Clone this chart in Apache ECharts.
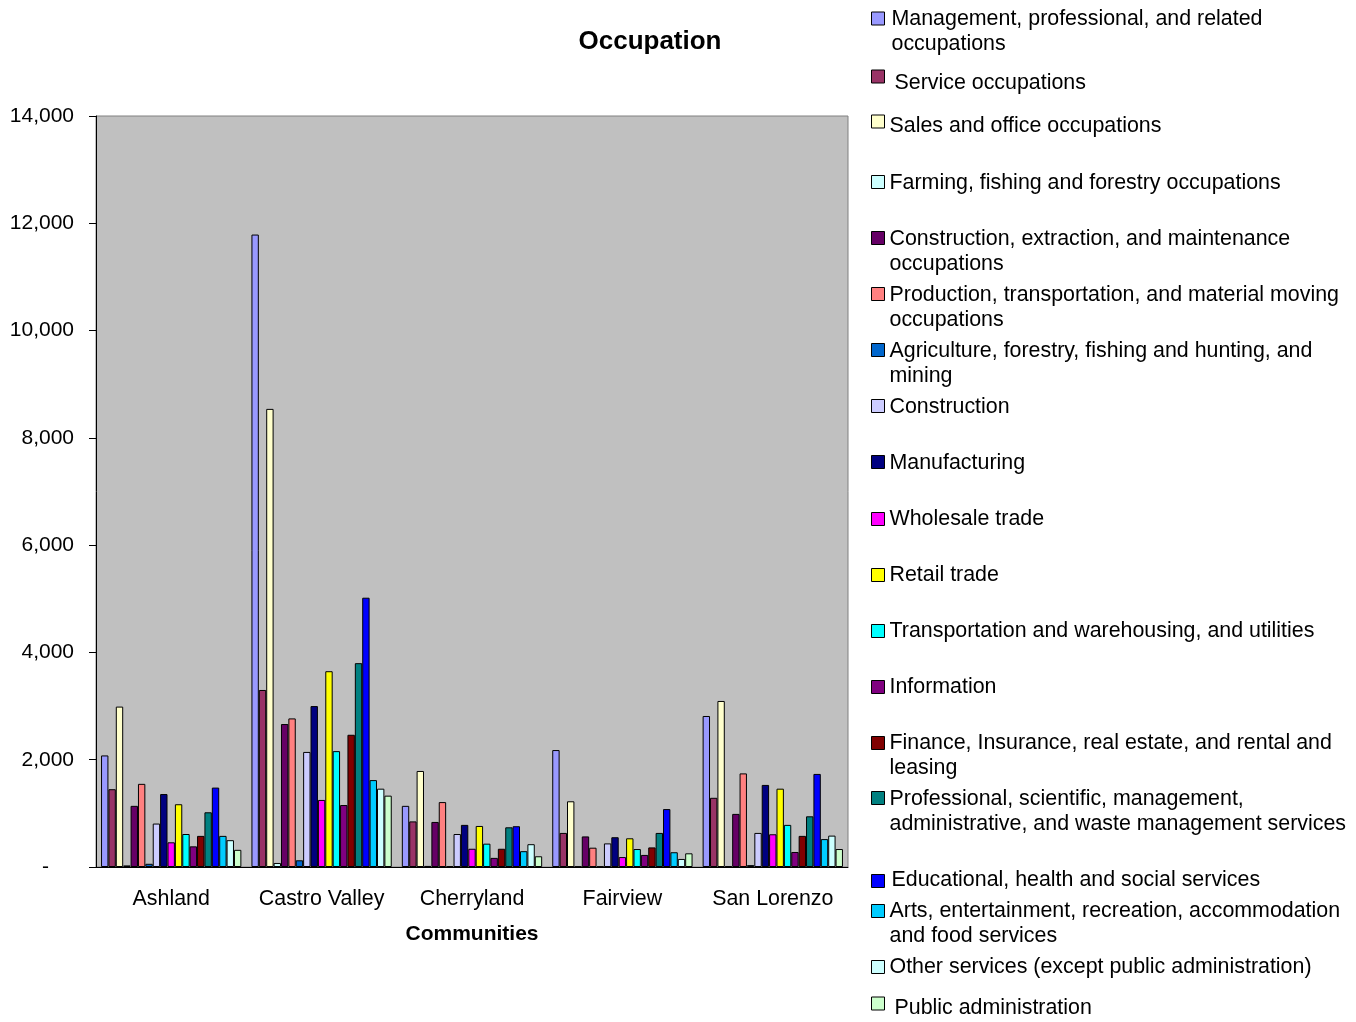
<!DOCTYPE html>
<html>
<head>
<meta charset="utf-8">
<title>Occupation</title>
<script src="https://cdn.jsdelivr.net/npm/echarts@6/dist/echarts.min.js"></script>
<style>
    html, body { margin: 0; padding: 0; background: #fff; }
    #chart { width: 1356px; height: 1022px; }
</style>
</head>
<body>
<div id="chart"></div>
<script>
// categories on the x axis
const communities = ['Ashland', 'Castro Valley', 'Cherryland', 'Fairview', 'San Lorenzo'];

// legend text as it wraps in the original
const occupationLabels = [
    'Management, professional, and related\noccupations',
    'Service occupations',
    'Sales and office occupations',
    'Farming, fishing and forestry occupations',
    'Construction, extraction, and maintenance\noccupations',
    'Production, transportation, and material moving\noccupations',
    'Agriculture, forestry, fishing and hunting, and\nmining',
    'Construction',
    'Manufacturing',
    'Wholesale trade',
    'Retail trade',
    'Transportation and warehousing, and utilities',
    'Information',
    'Finance, Insurance, real estate, and rental and\nleasing',
    'Professional, scientific, management,\nadministrative, and waste management services',
    'Educational, health and social services',
    'Arts, entertainment, recreation, accommodation\nand food services',
    'Other services (except public administration)',
    'Public administration'
];

// values per community, in the order of occupationLabels
const ashland      = [2080, 1450, 2990, 30, 1140, 1550, 60, 810, 1360, 460, 1170, 615, 385, 580, 1020, 1480, 580, 500, 320];
const castroValley = [11790, 3300, 8540, 75, 2665, 2770, 125, 2145, 3000, 1250, 3650, 2160, 1155, 2465, 3800, 5020, 1620, 1460, 1330];
const cherryland   = [1140, 850, 1790, 20, 840, 1210, 15, 615, 785, 340, 765, 435, 170, 340, 740, 760, 295, 425, 200];
const fairview     = [2180, 635, 1225, 10, 570, 360, 10, 440, 555, 185, 535, 335, 225, 365, 635, 1080, 275, 150, 255];
const sanLorenzo   = [2815, 1290, 3095, 15, 990, 1745, 35, 635, 1530, 610, 1460, 785, 280, 580, 945, 1735, 520, 585, 335];

const yTicks = [0, 2000, 4000, 6000, 8000, 10000, 12000, 14000];

const colors = [
    '#9999FF', '#993366', '#FFFFCC', '#CCFFFF', '#660066', '#FF8080', '#0066CC',
    '#CCCCFF', '#000080', '#FF00FF', '#FFFF00', '#00FFFF', '#800080', '#800000',
    '#008080', '#0000FF', '#00CCFF', '#CCFFFF', '#CCFFCC'
];

// legend placement (icon centre y, text shift y, text shift x)
const legendIconY = [17.5, 76, 121, 181, 237, 293, 349, 405, 461, 518, 574, 630, 686, 742, 797, 880, 910, 966, 1003];
const legendDy    = [0.5, 7, 5, 1, 1, 1, 1, 1, 1, 0, 0, 0, 0, 0, 1, -1, 0, 0, 5];
const legendDx    = [2, 5, 0, 0, 0, 0, 0, 0, 0, 0, 0, 0, 0, 0, 0, 2, 0, 0, 5];

const FONT = 'Liberation Sans, Arial, sans-serif';
const LINE = 25;

let chartDom = document.getElementById('chart');
let myChart = echarts.init(chartDom);
let option;

const names = occupationLabels.map(s => s.replace('\n', ' '));
const rows = [ashland, castroValley, cherryland, fairview, sanLorenzo];

const series = names.map((name, i) => ({
    name: name,
    type: 'bar',
    data: rows.map(r => r[i]),
    barGap: '0%',
    barCategoryGap: '6.7%',
    itemStyle: { color: colors[i], borderColor: '#000', borderWidth: 1 }
}));

const legends = names.map((name, i) => {
    const n = occupationLabels[i].split('\n').length;
    // rich padding pushes the text so the icon sits on its first line
    const p = (n - 1) * LINE + 2 * legendDy[i];
    const padTop = p > 0 ? p : 0;
    const padBottom = p < 0 ? -p : 0;
    return {
        data: [name],
        left: 871,
        // group box starts at the icon top or at the first text line, whichever is higher
        top: legendIconY[i] + Math.min(-6.5, legendDy[i] - 9.5),
        padding: 0,
        itemWidth: 13,
        itemHeight: 13,
        selectedMode: false,
        icon: 'rect',
        itemStyle: { borderColor: '#000', borderWidth: 1 },
        formatter: () => occupationLabels[i].split('\n').map(s => '{t|' + s + '}').join('\n'),
        textStyle: {
            padding: [padTop, 0, padBottom, legendDx[i]],
            rich: {
                t: { fontFamily: FONT, fontSize: 21.4, lineHeight: LINE, color: '#000' }
            }
        }
    };
});

option = {
    animation: false,
    backgroundColor: '#fff',
    title: {
        text: 'Occupation',
        left: 645,
        textAlign: 'center',
        top: 24,
        textStyle: { fontFamily: FONT, fontSize: 26, fontWeight: 'bold', color: '#000' }
    },
    legend: legends,
    grid: {
        left: 96,
        top: 116,
        right: 508,
        bottom: 155,
        show: true,
        backgroundColor: '#C0C0C0',
        borderColor: '#808080',
        borderWidth: 1
    },
    xAxis: {
        type: 'category',
        data: communities,
        name: 'Communities',
        nameLocation: 'middle',
        nameGap: 57,
        nameTextStyle: { fontFamily: FONT, fontSize: 21, fontWeight: 'bold', color: '#000' },
        axisLine: { lineStyle: { color: '#000', width: 1 } },
        axisTick: { length: 6, lineStyle: { color: '#000' } },
        axisLabel: { fontFamily: FONT, fontSize: 21.4, color: '#000', margin: 22, interval: 0 }
    },
    yAxis: {
        type: 'value',
        min: yTicks[0],
        max: yTicks[yTicks.length - 1],
        interval: yTicks[1] - yTicks[0],
        splitLine: { show: false },
        axisLine: { show: true, lineStyle: { color: '#000', width: 1 } },
        axisTick: { show: true, length: 7, lineStyle: { color: '#000' } },
        axisLabel: {
            fontFamily: FONT,
            fontSize: 21,
            color: '#000',
            margin: 22,
            formatter: v => v === 0 ? '{z|-}' : v.toLocaleString('en-US'),
            rich: { z: { fontFamily: FONT, fontSize: 21, color: '#000', padding: [0, 25, 0, 0] } }
        }
    },
    series: series
};

option && myChart.setOption(option);
</script>
</body>
</html>
